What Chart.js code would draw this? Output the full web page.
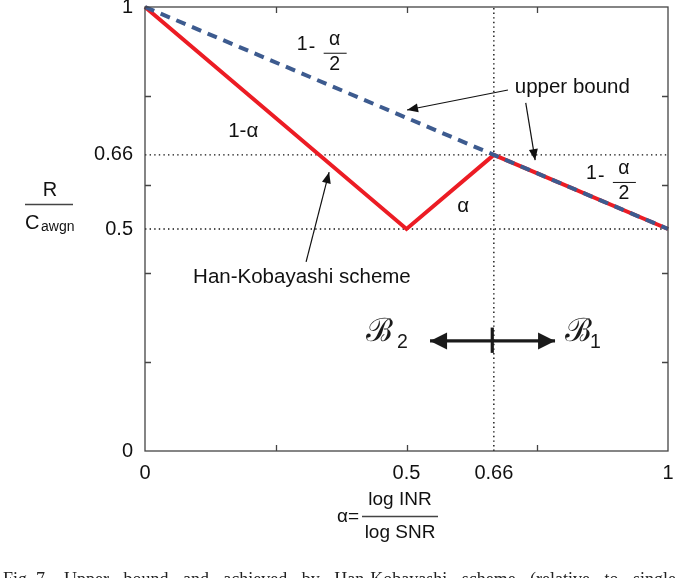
<!DOCTYPE html>
<html><head><meta charset="utf-8">
<script src="https://cdn.jsdelivr.net/npm/chart.js@4.4.1/dist/chart.umd.min.js"></script>
<style>html,body{margin:0;padding:0;background:#fff}#wrap{width:678px;height:578px;position:relative}</style>
</head><body><div id="wrap"><canvas id="c"></canvas></div>
<script>
// ---- data ----
const hkAlpha = [0, 0.5, 0.667, 1];
const hkRate  = [1, 0.5, 0.667, 0.5];
const ubAlpha = [0, 0.667, 1];
const ubRate  = [1, 0.667, 0.5];
const xTickValues = [0, 0.25, 0.5, 0.667, 0.75, 1];
const xTickLabels = ['0', '', '0.5', '0.66', '', '1'];
const yTickValues = [0, 0.2, 0.4, 0.5, 0.6, 0.667, 0.8, 1];
const yTickLabels = ['0', '', '', '0.5', '', '0.66', '', '1'];
const refYValues = [0.667, 0.5];
const refXValues = [0.667];

const SANS = '"Liberation Sans", Arial, Helvetica, sans-serif';
const toPts = (xs, ys) => xs.map((x, i) => ({x, y: ys[i]}));

const refSets = [];
refYValues.forEach(v => refSets.push({data: [{x:0,y:v},{x:1,y:v}]}));
refXValues.forEach(v => refSets.push({data: [{x:v,y:0},{x:v,y:1}]}));

const datasets = [
  {label:'upper bound', data: toPts(ubAlpha, ubRate), borderColor:'#3d5b8f', borderWidth:4,
   borderDash:[10,7], showLine:true, pointRadius:0, order:0, clip:false},
  {label:'Han-Kobayashi scheme', data: toPts(hkAlpha, hkRate), borderColor:'#ec1c24', borderWidth:4,
   showLine:true, pointRadius:0, order:1, clip:false, borderJoinStyle:'miter'},
  ...refSets.map(s => Object.assign(s, {borderColor:'#111', borderWidth:1.4, borderDash:[1.4,3.2],
     showLine:true, pointRadius:0, order:2}))
];

function arrow(ctx, x1, y1, x2, y2, len, half) {
  ctx.beginPath(); ctx.moveTo(x1, y1); ctx.lineTo(x2, y2); ctx.stroke();
  const a = Math.atan2(y2 - y1, x2 - x1);
  const bx = x2 - len * Math.cos(a), by = y2 - len * Math.sin(a);
  ctx.beginPath();
  ctx.moveTo(x2, y2);
  ctx.lineTo(bx + half * Math.sin(a), by - half * Math.cos(a));
  ctx.lineTo(bx - half * Math.sin(a), by + half * Math.cos(a));
  ctx.closePath(); ctx.fill();
}

function oneMinusHalf(ctx, x, y) {
  ctx.font = '19.5px ' + SANS;
  ctx.textBaseline = 'middle'; ctx.textAlign = 'left';
  ctx.fillText('1', x, y);
  ctx.fillText('-', x + 12, y + 3);
  ctx.textAlign = 'center';
  ctx.fillText('\u03b1', x + 38, y - 5);
  ctx.fillText('2', x + 38, y + 20);
  ctx.lineWidth = 1;
  ctx.beginPath(); ctx.moveTo(x + 27, y + 8.5); ctx.lineTo(x + 50, y + 8.5); ctx.stroke();
}

const annot = {
  id: 'annot',
  afterDraw(chart) {
    const ctx = chart.ctx, xs = chart.scales.x, ys = chart.scales.y, ca = chart.chartArea;
    const X = v => xs.getPixelForValue(v), Y = v => ys.getPixelForValue(v);
    ctx.save();
    // frame
    ctx.strokeStyle = '#444'; ctx.lineWidth = 1.3;
    ctx.strokeRect(ca.left, ca.top, ca.right - ca.left, ca.bottom - ca.top);
    // inward ticks
    const tl = 6;
    ctx.beginPath();
    xTickValues.forEach(v => {
      if (v === 0 || v === 1 || refXValues.includes(v)) return;
      const px = Math.round(X(v)) + 0.5;
      ctx.moveTo(px, ca.bottom); ctx.lineTo(px, ca.bottom - tl);
      ctx.moveTo(px, ca.top); ctx.lineTo(px, ca.top + tl);
    });
    yTickValues.forEach(v => {
      if (v === 0 || v === 1 || refYValues.includes(v)) return;
      const py = Math.round(Y(v)) + 0.5;
      ctx.moveTo(ca.left, py); ctx.lineTo(ca.left + tl, py);
      ctx.moveTo(ca.right, py); ctx.lineTo(ca.right - tl, py);
    });
    ctx.stroke();

    ctx.fillStyle = '#111'; ctx.strokeStyle = '#111';
    // formulas on the lines
    oneMinusHalf(ctx, X(0.29), Y(0.915));
    oneMinusHalf(ctx, X(0.843), Y(0.624));
    ctx.font = '20.5px ' + SANS; ctx.textAlign = 'left'; ctx.textBaseline = 'middle';
    ctx.fillText('1-\u03b1', X(0.159), Y(0.721));
    ctx.fillText('\u03b1', X(0.597), Y(0.552));
    ctx.fillText('upper bound', X(0.707), Y(0.82));
    ctx.fillText('Han-Kobayashi scheme', X(0.092), Y(0.392));
    // annotation arrows
    ctx.lineWidth = 1.2;
    arrow(ctx, X(0.694), Y(0.813), X(0.501), Y(0.768), 11, 4.5);
    arrow(ctx, X(0.728), Y(0.784), X(0.746), Y(0.655), 11, 4.5);
    arrow(ctx, X(0.308), Y(0.426), X(0.352), Y(0.628), 11, 4.5);
    // regime double arrow
    ctx.fillStyle = '#1a1a1a'; ctx.strokeStyle = '#1a1a1a';
    ctx.lineWidth = 3.2;
    const ay = Y(0.248);
    arrow(ctx, X(0.664), ay, X(0.545), ay, 17, 8.5);
    arrow(ctx, X(0.664), ay, X(0.784), ay, 17, 8.5);
    ctx.beginPath(); ctx.moveTo(X(0.664), Y(0.278)); ctx.lineTo(X(0.664), Y(0.221)); ctx.stroke();
    ctx.textBaseline = 'alphabetic';
    ctx.font = '32px "DejaVu Serif", serif';
    ctx.fillText('\u212c', X(0.422), Y(0.247));
    ctx.fillText('\u212c', X(0.803), Y(0.247));
    ctx.font = '19.5px ' + SANS;
    ctx.fillText('2', X(0.482), Y(0.232));
    ctx.fillText('1', X(0.851), Y(0.232));

    // y-axis title
    ctx.fillStyle = '#111'; ctx.strokeStyle = '#444'; ctx.lineWidth = 1.3;
    ctx.textAlign = 'center'; ctx.textBaseline = 'middle';
    ctx.font = '20px ' + SANS;
    ctx.fillText('R', 50, 190);
    ctx.beginPath(); ctx.moveTo(25, 204.5); ctx.lineTo(73, 204.5); ctx.stroke();
    ctx.textAlign = 'left';
    ctx.fillText('C', 25, 223);
    ctx.font = '14px ' + SANS;
    ctx.fillText('awgn', 41, 227);
    // x-axis title
    ctx.font = '19px ' + SANS;
    ctx.textAlign = 'left';
    ctx.fillText('\u03b1=', 337, 517);
    ctx.textAlign = 'center';
    ctx.fillText('log INR', 400, 500);
    ctx.fillText('log SNR', 400, 533);
    ctx.beginPath(); ctx.moveTo(362, 516.5); ctx.lineTo(438, 516.5); ctx.stroke();
    // caption (cut at the bottom edge)
    ctx.font = '18px "Liberation Serif", "Times New Roman", serif';
    ctx.textAlign = 'left'; ctx.textBaseline = 'alphabetic'; ctx.fillStyle = '#222';
    const words = ['Fig. 7.', 'Upper', 'bound', 'and', 'achieved', 'by', 'Han-Kobayashi', 'scheme', '(relative', 'to', 'single'];
    const total = words.reduce((s, w) => s + ctx.measureText(w).width, 0);
    const gap = (676 - 3 - total) / (words.length - 1);
    let cx = 3;
    words.forEach(w => { ctx.fillText(w, cx, 585); cx += ctx.measureText(w).width + gap; });
    ctx.restore();
  }
};

new Chart(document.getElementById('c'), {
  type: 'scatter',
  data: {datasets},
  options: {
    responsive: true, maintainAspectRatio: false, animation: false,
    layout: {padding: {top: 7, right: 10, left: 0, bottom: 0}},
    plugins: {legend: {display: false}, tooltip: {enabled: false}},
    scales: {
      x: {
        type: 'linear', min: 0, max: 1,
        afterBuildTicks: s => { s.ticks = xTickValues.map(v => ({value: v})); },
        afterFit: s => { s.height = 127; s.paddingLeft = 0; s.paddingRight = 0; },
        grid: {display: false, drawTicks: false}, border: {display: false},
        ticks: {autoSkip: false, maxRotation: 0, padding: 10, color: '#111',
          font: {family: SANS, size: 20}, callback: (v, i) => xTickLabels[i]}
      },
      y: {
        type: 'linear', min: 0, max: 1,
        afterBuildTicks: s => { s.ticks = yTickValues.map(v => ({value: v})); },
        afterFit: s => { s.width = 145; s.paddingTop = 0; s.paddingBottom = 0; },
        grid: {display: false, drawTicks: false}, border: {display: false},
        ticks: {autoSkip: false, padding: 12, color: '#111',
          font: {family: SANS, size: 20}, callback: (v, i) => yTickLabels[i]}
      }
    }
  },
  plugins: [annot]
});
</script></body></html>
